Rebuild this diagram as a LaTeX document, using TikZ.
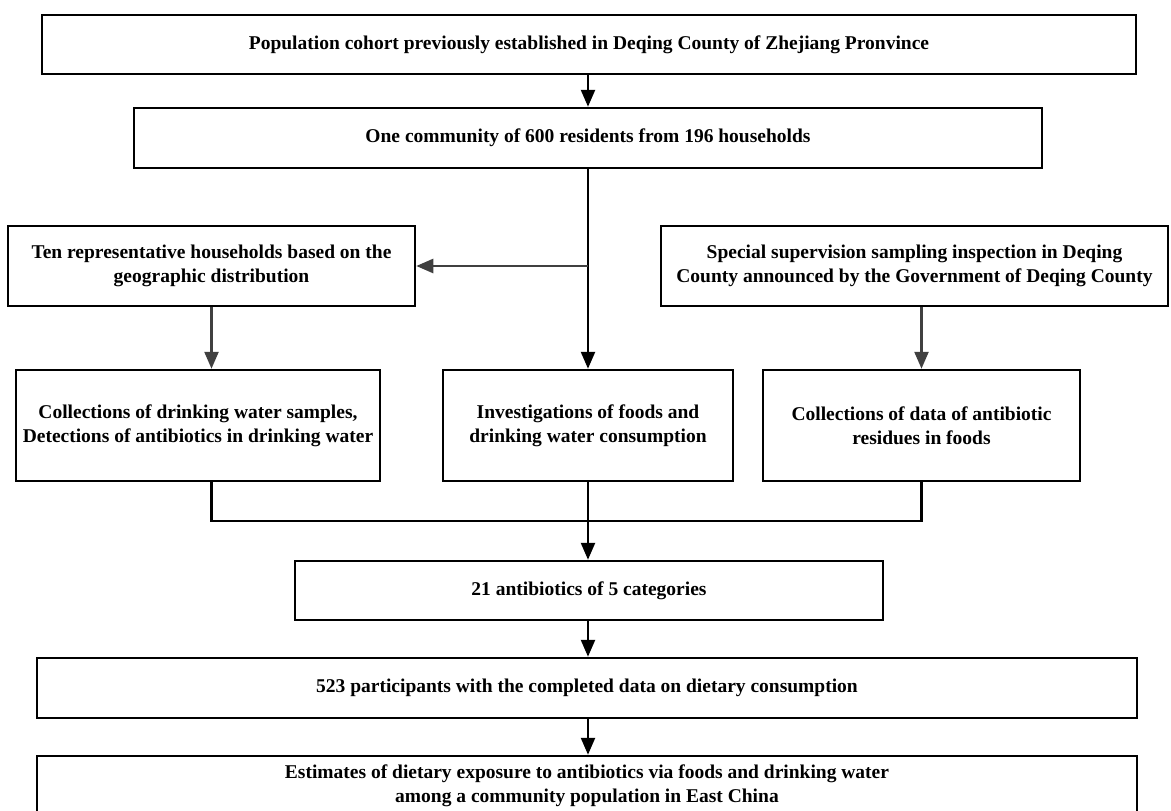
\documentclass[tikz,border=0pt]{standalone}
\usepackage{fontspec}
\setmainfont{Liberation Serif}
\usetikzlibrary{arrows.meta}
\tikzset{
  box/.style={draw,line width=2.5pt,align=center,inner sep=0pt,
    font=\bfseries\fontsize{19.5}{24}\selectfont},
  link/.style={line width=2.5pt},
  arr/.style={link,-{Triangle[length=17pt,width=14pt]}},
  grayarr/.style={arr,draw=black!75,fill=black!75}
}
\begin{document}
\begin{tikzpicture}[x=1pt,y=-1pt]
\useasboundingbox (0,0) rectangle (1171,811);
% boxes
\node[box,minimum width=1094pt,minimum height=59pt] (cohort) at (589,44.5) {Population cohort previously established in Deqing County of Zhejiang Pronvince};
\node[box,minimum width=908pt,minimum height=60pt] (community) at (588,138) {One community of 600 residents from 196 households};
\node[box,minimum width=407pt,minimum height=80pt] (households) at (211.5,266) {Ten representative households based on the\\geographic distribution};
\node[box,minimum width=507pt,minimum height=80pt] (inspection) at (914.5,266) {Special supervision sampling inspection in Deqing\\County announced by the Government of Deqing County};
\node[box,minimum width=364pt,minimum height=111pt] (water) at (198,425.5) {Collections of drinking water samples,\\Detections of antibiotics in drinking water};
\node[box,minimum width=290pt,minimum height=111pt] (survey) at (588,425.5) {Investigations of foods and\\drinking water consumption};
\node[box,minimum width=317pt,minimum height=111pt] (residues) at (921.5,425.5) {Collections of data of antibiotic\\residues in foods};
\node[box,minimum width=588pt,minimum height=59pt] (antibiotics) at (589,590.5) {21 antibiotics of 5 categories};
\node[box,minimum width=1100pt,minimum height=60pt] (participants) at (587,688) {523 participants with the completed data on dietary consumption};
\node[box,minimum width=1100pt,minimum height=59pt] (estimates) at (587,785.5) {Estimates of dietary exposure to antibiotics via foods and drinking water\\among a community population in East China};
% connectors
\coordinate (branch) at (community.south |- households.east);
\coordinate (merge) at (588,521);
\draw[arr] (cohort.south -| community) -- (community.north);
\draw[arr] (community.south) -- (survey.north);
\draw[grayarr] (branch) -- (households.east);
\draw[grayarr] (households.south) -- (households.south |- water.north);
\draw[grayarr] (residues |- inspection.south) -- (residues.north);
\draw[link] (households |- water.south) |- (merge) -| (residues.south);
\draw[arr] (survey.south) -- (antibiotics.north -| survey);
\draw[arr] (antibiotics.south -| survey) -- (participants.north -| survey);
\draw[arr] (participants.south -| survey) -- (estimates.north -| survey);
\end{tikzpicture}
\end{document}
